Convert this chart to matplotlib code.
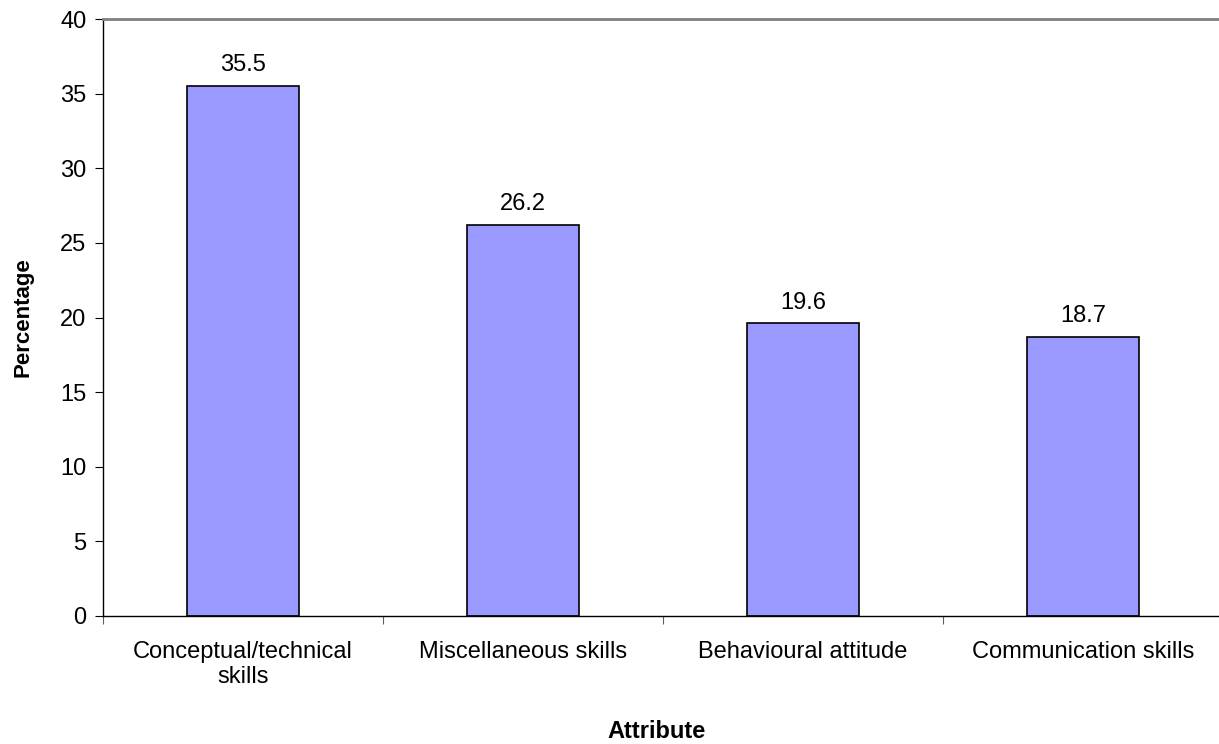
import matplotlib
matplotlib.use("Agg")
import matplotlib.pyplot as plt

categories = ["Conceptual/technical\nskills", "Miscellaneous skills", "Behavioural attitude", "Communication skills"]
values = [35.5, 26.2, 19.6, 18.7]
yticks = [0, 5, 10, 15, 20, 25, 30, 35, 40]

plt.rcParams['font.family'] = ['Liberation Sans', 'DejaVu Sans']
FS = 17
W, H = 1219, 744
fig = plt.figure(figsize=(W/100, H/100), dpi=100)
ax = fig.add_axes([103/W, (H-616)/H, 1120/W, 597/H])

x = list(range(len(categories)))
ax.bar(x, values, width=0.4, color='#9999FF', edgecolor='black', linewidth=1.2)
for xi, v in zip(x, values):
    ax.annotate(f"{v}", (xi, v), xytext=(0, 7), textcoords='offset points',
                ha='center', va='bottom', fontsize=FS)

ax.set_xlim(-0.5, len(categories) - 0.5)
ax.set_ylim(0, 40)
ax.set_yticks(yticks)
ax.tick_params(axis='y', labelsize=FS, length=6, direction='out', pad=6)
ax.set_xticks([i + 0.5 for i in range(-1, len(categories))])
ax.set_xticklabels([])
ax.set_xticks(x, minor=True)
ax.set_xticklabels(categories, minor=True, fontsize=FS)
ax.tick_params(axis='x', which='minor', length=0, pad=18)
ax.tick_params(axis='x', which='major', length=6, color='#606060', direction='out')

ax.spines['right'].set_visible(False)
ax.spines['top'].set_color('#808080')
ax.spines['top'].set_linewidth(2.0)
ax.spines['left'].set_linewidth(1.0)
ax.spines['bottom'].set_linewidth(1.0)

ax.set_ylabel("Percentage", fontsize=16, fontweight='bold', labelpad=19)
fig.text(657/W, 1 - 731/H, "Attribute",
         ha='center', va='center', fontsize=FS, fontweight='bold')

fig.savefig("out.png", dpi=100)
